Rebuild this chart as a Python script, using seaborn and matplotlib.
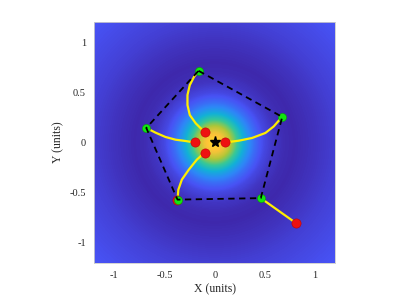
import numpy as np
import pandas as pd
import matplotlib
matplotlib.use('Agg')
import matplotlib.pyplot as plt
from matplotlib.colors import LinearSegmentedColormap
import seaborn as sns

## Background field: radial profile (radius -> colour level)
field_radius = [0.0, 0.05, 0.1, 0.15, 0.2, 0.25, 0.3, 0.35, 0.4, 0.45, 0.5, 0.6, 0.7, 0.8, 1.0, 1.2, 1.4, 1.7]
field_level = [0.90, 0.88, 0.83, 0.75, 0.64, 0.52, 0.40, 0.30, 0.22, 0.16, 0.11, 0.05, 0.02, 0.01, 0.04, 0.08, 0.11, 0.15]

## Parula-like colours
parula_colors = [(0.2422, 0.1504, 0.6603), (0.2810, 0.3228, 0.9579), (0.1786, 0.5289, 0.9682),
                 (0.0689, 0.6948, 0.8394), (0.2161, 0.7843, 0.5923), (0.6720, 0.7793, 0.2227),
                 (0.9970, 0.7659, 0.2199), (0.9769, 0.9839, 0.0805)]

## Final positions (green), pentagon order
green_x = [-0.162, 0.672, 0.458, -0.371, -0.682]
green_y = [0.714, 0.255, -0.554, -0.569, 0.145]

## Red markers
red_x = [-0.10, 0.10, 0.806, -0.376, -0.10, -0.20]
red_y = [0.10, 0.0, -0.801, -0.574, -0.10, 0.0]

## Target star
star_x = [0.0]
star_y = [0.0]

## Trajectories
path_top_x = [-0.162, -0.206, -0.249, -0.272, -0.272, -0.249, -0.189, -0.122, -0.10]
path_top_y = [0.714, 0.655, 0.572, 0.473, 0.373, 0.274, 0.190, 0.124, 0.10]
path_left_x = [-0.682, -0.590, -0.491, -0.391, -0.292, -0.20]
path_left_y = [0.145, 0.098, 0.055, 0.028, 0.015, 0.0]
path_right_x = [0.10, 0.239, 0.371, 0.504, 0.587, 0.637, 0.672]
path_right_y = [0.0, 0.018, 0.045, 0.095, 0.160, 0.217, 0.255]
path_bl_x = [-0.10, -0.179, -0.259, -0.328, -0.363, -0.371]
path_bl_y = [-0.10, -0.171, -0.271, -0.370, -0.470, -0.569]
path_br_x = [0.458, 0.806]
path_br_y = [-0.554, -0.801]

tick_values = [-1, -0.5, 0, 0.5, 1]
tick_labels = ['-1', '-0.5', '0', '0.5', '1']

sns.set_theme(style='white')
plt.rcParams['font.family'] = ['Liberation Serif', 'DejaVu Serif']
plt.rcParams['axes.unicode_minus'] = False

parula = LinearSegmentedColormap.from_list('parula', parula_colors)

fig = plt.figure(figsize=(4.15, 2.96), dpi=100)
ax = fig.add_axes([0.2272, 0.1115, 0.5807, 0.8142])

## Field on a fine grid
grid = np.linspace(-1.2, 1.2, 241)
gx, gy = np.meshgrid(grid, grid)
field = np.interp(np.hypot(gx, gy), field_radius, field_level)
ax.imshow(field, extent=[-1.2, 1.2, -1.2, 1.2], origin='lower', cmap=parula,
          vmin=0, vmax=1, interpolation='bilinear', zorder=0)

## Trajectories
paths = [(path_top_x, path_top_y), (path_left_x, path_left_y), (path_right_x, path_right_y),
         (path_bl_x, path_bl_y), (path_br_x, path_br_y)]
rows = []
for i, (px, py) in enumerate(paths):
    for j in range(len(px)):
        rows.append({'agent': i, 'step': j, 'x': px[j], 'y': py[j]})
df_paths = pd.DataFrame(rows)
sns.lineplot(data=df_paths, x='x', y='y', units='agent', estimator=None, sort=False,
             color='#ffee00', linewidth=1.6, ax=ax, zorder=2)

## Markers
sns.scatterplot(x=red_x, y=red_y, color='#ee1111', edgecolor='#c00000', linewidth=0.4,
                s=44, ax=ax, zorder=3)
sns.scatterplot(x=green_x, y=green_y, color='#11e611', edgecolor='#0a9a0a', linewidth=0.4,
                s=34, ax=ax, zorder=4)

## Dashed formation polygon
ax.plot(green_x + green_x[:1], green_y + green_y[:1], color='black', linestyle=(0, (3.5, 2.5)),
        linewidth=1.3, zorder=5)

ax.plot(star_x, star_y, marker='*', color='black', markersize=8, linestyle='none', zorder=6)

ax.set_xlim(-1.2, 1.2)
ax.set_ylim(-1.2, 1.2)
ax.set_aspect('equal')
ax.set_xticks(tick_values)
ax.set_xticklabels(tick_labels)
ax.set_yticks(tick_values)
ax.set_yticklabels(tick_labels)
ax.tick_params(length=0, labelsize=7.5, colors='#262626', pad=6)
ax.set_xlabel('X (units)', fontsize=8.5, color='#262626', labelpad=2)
ax.set_ylabel('Y (units)', fontsize=8.5, color='#262626', labelpad=4)
for sp in ax.spines.values():
    sp.set_color('#cccccc')
    sp.set_linewidth(0.6)

fig.savefig('out.png', dpi=100)
